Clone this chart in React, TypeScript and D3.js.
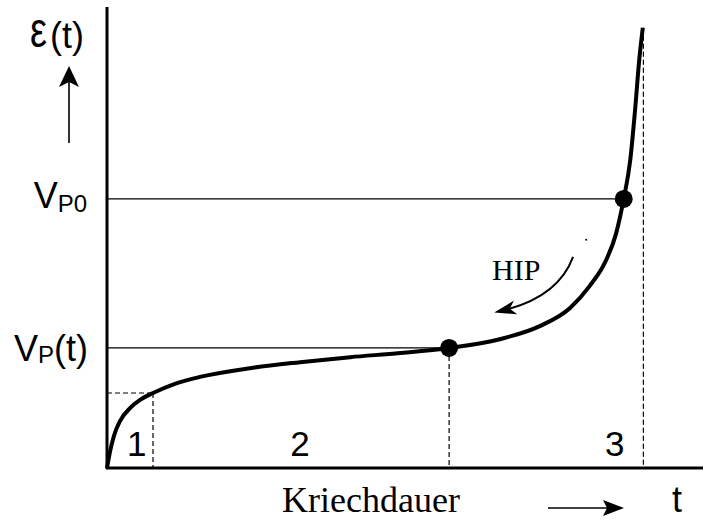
import React from "react";
import * as d3 from "d3";

// Creep curve (time in %, strain in %)
const creepT = [0, 0.5, 1.17, 2.18, 3.86, 5.54, 7.72, 11.4, 15.6, 24.0, 32.4, 40.8, 49.2, 57.4, 65.9, 72.7, 77.7, 81.0, 83.6, 85.4, 86.7, 87.8, 88.6, 89.3, 89.9];
const creepE = [0, 3.5, 7.0, 10.2, 13.0, 14.8, 16.3, 18.3, 19.8, 21.7, 23.0, 24.1, 25.0, 26.1, 28.0, 30.9, 34.8, 39.6, 44.8, 50.9, 58.5, 67.0, 77.8, 88.7, 95.7];

// Marked points: V_P(t) and V_P0
const markT = [57.4, 86.7];
const markE = [26.1, 58.5];

// Phase boundaries
const phase1End = { t: 7.72, e: 16.3 };
const phase3End = { t: 90.0, e: 95.7 };
const phaseLabels = ["1", "2", "3"];
const phaseLabelT = [5.0, 32.4, 85.2];

// HIP annotation arrow (data units)
const hipStart = { t: 78.2, e: 45.9 };
const hipCtrl = { t: 75.7, e: 37.2 };
const hipEnd = { t: 66.6, e: 34.3 };

const W = 705;
const H = 521;

export default function App() {
  const x = d3.scaleLinear().domain([0, 100]).range([107, 703]);
  const y = d3.scaleLinear().domain([0, 100]).range([468, 8]);

  const pts: [number, number][] = creepT.map((t, i) => [t, creepE[i]]);
  const line = d3
    .line<[number, number]>()
    .x((d) => x(d[0]))
    .y((d) => y(d[1]))
    .curve(d3.curveMonotoneX);

  const sans = "'Liberation Sans', Arial, sans-serif";
  const serif = "'Liberation Serif', 'Times New Roman', serif";

  // HIP arrow geometry
  const hx0 = x(hipStart.t), hy0 = y(hipStart.e);
  const hxc = x(hipCtrl.t), hyc = y(hipCtrl.e);
  const hx1 = x(hipEnd.t), hy1 = y(hipEnd.e);
  const dx = hx1 - hxc, dy = hy1 - hyc;
  const len = Math.hypot(dx, dy);
  const ux = dx / len, uy = dy / len;
  const tipX = hx1 + ux * 10, tipY = hy1 + uy * 10;
  const bx = tipX - ux * 22, by = tipY - uy * 22;
  const nx = -uy, ny = ux;
  const notchX = tipX - ux * 16, notchY = tipY - uy * 16;
  const hipHead = `M${tipX},${tipY}L${bx + nx * 7},${by + ny * 7}L${notchX},${notchY}L${bx - nx * 7},${by - ny * 7}Z`;

  return (
    <svg
      width={W}
      height={H}
      style={{ position: "absolute", left: 0, top: 0, background: "#fff" }}
    >
      <rect width={W} height={H} fill="#fff" />

      {/* reference lines */}
      {markT.map((t, i) => (
        <line key={"h" + i} x1={x(0)} x2={x(t)} y1={y(markE[i])} y2={y(markE[i])} stroke="#000" strokeWidth={1.2} />
      ))}
      {/* dashed helper lines */}
      <g stroke="#000" strokeWidth={1.2} strokeDasharray="5,3" fill="none">
        <line x1={x(0)} x2={x(phase1End.t)} y1={y(phase1End.e)} y2={y(phase1End.e)} />
        <line x1={x(phase1End.t)} x2={x(phase1End.t)} y1={y(phase1End.e)} y2={y(0)} />
        <line x1={x(markT[0])} x2={x(markT[0])} y1={y(markE[0])} y2={y(0)} />
        <line x1={x(phase3End.t)} x2={x(phase3End.t)} y1={y(phase3End.e)} y2={y(0)} />
      </g>

      {/* axes */}
      <line x1={x(0)} x2={x(0)} y1={y(0) + 1} y2={7} stroke="#000" strokeWidth={3} />
      <line x1={x(0) - 1} x2={x(100)} y1={y(0)} y2={y(0)} stroke="#000" strokeWidth={3} />

      {/* creep curve */}
      <path d={line(pts) || ""} fill="none" stroke="#000" strokeWidth={4} strokeLinejoin="round" />

      {/* marked points */}
      {markT.map((t, i) => (
        <circle key={"c" + i} cx={x(t)} cy={y(markE[i])} r={9} fill="#000" />
      ))}

      {/* phase labels */}
      {phaseLabels.map((l, i) => (
        <text key={l} x={x(phaseLabelT[i])} y={456} fontFamily={sans} fontSize={35} textAnchor="middle">
          {l}
        </text>
      ))}

      {/* y label */}
      <text transform="translate(30,47) scale(1,1.3)" fontFamily={sans} fontSize={38}>ε</text>
      <text x={50} y={48} fontFamily={sans} fontSize={36}>(t)</text>
      <line x1={69} x2={69} y1={143} y2={80} stroke="#000" strokeWidth={1.6} />
      <path d="M69,66L59,87L69,82L79,87Z" fill="#000" />

      {/* V labels */}
      <text x={87} y={208} fontFamily={sans} fontSize={36} textAnchor="end">
        V<tspan fontSize={24} dy={4}>P0</tspan>
      </text>
      <text x={88} y={361} fontFamily={sans} fontSize={36} textAnchor="end">
        V<tspan fontSize={24} dy={2}>P</tspan><tspan dy={-2}>(t)</tspan>
      </text>

      {/* x label */}
      <text x={282} y={512} fontFamily={serif} fontSize={36}>Kriechdauer</text>
      <line x1={548} x2={610} y1={508} y2={508} stroke="#000" strokeWidth={1.6} />
      <path d="M624,508L603,500L607,508L603,516Z" fill="#000" />
      <text x={677} y={512} fontFamily={sans} fontSize={36} textAnchor="middle">t</text>

      {/* HIP annotation */}
      <text x={492} y={280} fontFamily={serif} fontSize={30}>HIP</text>
      <path d={`M${hx0},${hy0}Q${hxc},${hyc} ${hx1},${hy1}`} fill="none" stroke="#000" strokeWidth={2} />
      <path d={hipHead} fill="#000" />
      <circle cx={x(80.4)} cy={y(49.6)} r={1} fill="#000" />
    </svg>
  );
}
